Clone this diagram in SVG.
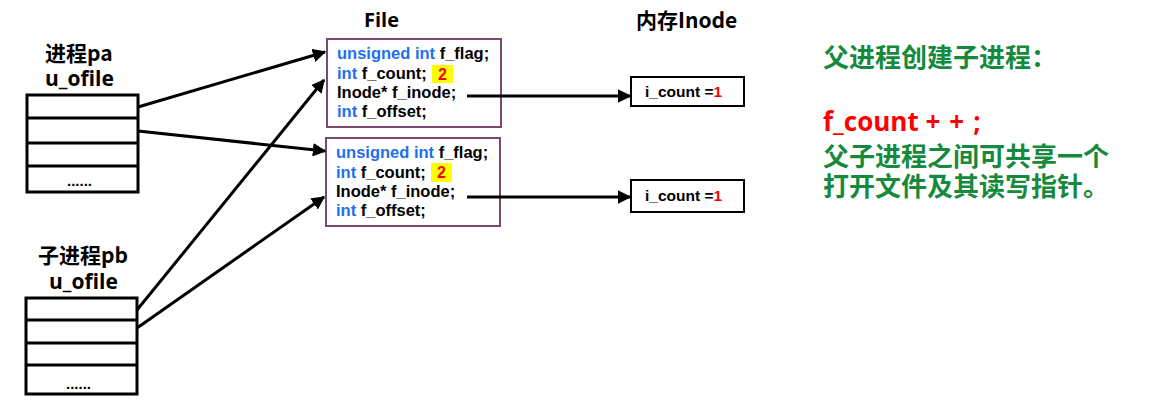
<svg xmlns="http://www.w3.org/2000/svg" width="1153" height="405" viewBox="0 0 1153 405">
<defs>
<marker id="ah" viewBox="0 0 10 10" refX="9" refY="5" markerWidth="4.5" markerHeight="4.5" orient="auto" markerUnits="strokeWidth">
<path d="M0,0 L10,5 L0,10 z" fill="#000"/>
</marker>
<style>
text{font-family:"Open Sans","Noto Sans CJK SC",sans-serif;font-weight:bold;}
.cjk{font-family:"Noto Sans CJK SC",sans-serif;font-weight:bold;}
.lbl{font-size:21px;fill:#000;}
.code{font-family:"Liberation Sans",Arial,sans-serif;font-size:16.5px;fill:#000;}
.kw{fill:#1e6ff0;}
.red{fill:#ff0000;}
.tbl{fill:#fff;stroke:#000;stroke-width:3;}
.fbox{fill:#fff;stroke:#7a4a6e;stroke-width:2;}
.ibox{fill:#fff;stroke:#000;stroke-width:2;}
.conn{stroke:#000;stroke-width:3;fill:none;marker-end:url(#ah);}
.note{font-size:26px;fill:#168a3c;}
</style>
</defs>
<rect width="1153" height="405" fill="#fff"/>

<g id="pa">
<text class="lbl cjk" x="45" y="61">进程pa</text>
<text class="lbl" x="45" y="86">u_ofile</text>
<rect class="tbl" x="27" y="95" width="111" height="97"/>
<line x1="27" y1="118" x2="138" y2="118" stroke="#000" stroke-width="3"/>
<line x1="27" y1="143" x2="138" y2="143" stroke="#000" stroke-width="3"/>
<line x1="27" y1="166" x2="138" y2="166" stroke="#000" stroke-width="3"/>
<text class="code" x="67" y="186" style="font-size:15px">......</text>
</g>

<g id="pb">
<text class="lbl cjk" x="38" y="263">子进程pb</text>
<text class="lbl" x="49" y="289">u_ofile</text>
<rect class="tbl" x="26" y="298" width="111" height="96"/>
<line x1="26" y1="320" x2="137" y2="320" stroke="#000" stroke-width="3"/>
<line x1="26" y1="343" x2="137" y2="343" stroke="#000" stroke-width="3"/>
<line x1="26" y1="365" x2="137" y2="365" stroke="#000" stroke-width="3"/>
<text class="code" x="66" y="389" style="font-size:15px">......</text>
</g>

<g id="file-title">
<text class="lbl" x="364" y="27" style="font-size:20px">File</text>
</g>
<g id="inode-title">
<text class="lbl cjk" x="636" y="28">内存Inode</text>
</g>

<g id="file1">
<rect class="fbox" x="327" y="39" width="174" height="88"/>
<text class="code" x="337" y="59"><tspan class="kw">unsigned int</tspan> f_flag;</text>
<text class="code" x="337" y="79"><tspan class="kw">int</tspan> f_count;</text>
<rect x="432" y="65" width="21" height="18" fill="#ffff00"/>
<text class="code red" x="442.5" y="80" text-anchor="middle" style="font-size:16px">2</text>
<text class="code" x="337" y="98">Inode* f_inode;</text>
<text class="code" x="337" y="117"><tspan class="kw">int</tspan> f_offset;</text>
</g>

<g id="file2">
<rect class="fbox" x="326" y="138" width="174" height="88"/>
<text class="code" x="336" y="158"><tspan class="kw">unsigned int</tspan> f_flag;</text>
<text class="code" x="336" y="178"><tspan class="kw">int</tspan> f_count;</text>
<rect x="431" y="163" width="21" height="19" fill="#ffff00"/>
<text class="code red" x="441.5" y="178" text-anchor="middle" style="font-size:16px">2</text>
<text class="code" x="336" y="197">Inode* f_inode;</text>
<text class="code" x="336" y="216"><tspan class="kw">int</tspan> f_offset;</text>
</g>

<g id="inode1">
<rect class="ibox" x="631" y="77" width="113" height="29"/>
<text class="code" x="645" y="97" style="font-size:15.5px">i_count =<tspan class="red">1</tspan></text>
</g>
<g id="inode2">
<rect class="ibox" x="631" y="180" width="113" height="32"/>
<text class="code" x="645" y="201" style="font-size:15.5px">i_count =<tspan class="red">1</tspan></text>
</g>

<g id="connectors">
<line class="conn" x1="138" y1="107" x2="325" y2="52"/>
<line class="conn" x1="138" y1="131" x2="325" y2="151"/>
<line class="conn" x1="137" y1="310" x2="324" y2="80"/>
<line class="conn" x1="137" y1="328" x2="324" y2="197"/>
<line class="conn" x1="467" y1="96" x2="630" y2="96"/>
<line class="conn" x1="467" y1="197" x2="630" y2="197"/>
</g>

<g id="note">
<text class="note cjk" x="823" y="67">父进程创建子进程：</text>
<text class="note" x="823" y="131" style="fill:#ff0000">f_count <tspan letter-spacing="9">++;</tspan></text>
<text class="note cjk" x="823" y="166">父子进程之间可共享一个</text>
<text class="note cjk" x="823" y="196">打开文件及其读写指针。</text>
</g>
</svg>
